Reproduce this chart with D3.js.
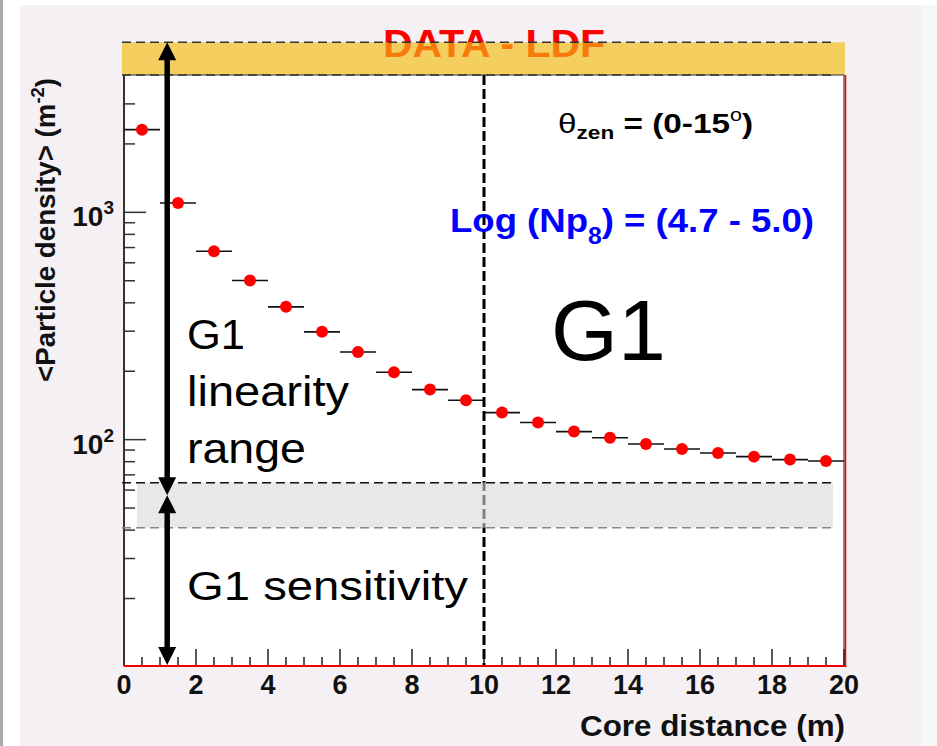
<!DOCTYPE html>
<html>
<head>
<meta charset="utf-8">
<script src="https://cdn.jsdelivr.net/npm/d3@7"></script>
<style>
  html, body { margin: 0; padding: 0; background: #ffffff; }
  svg { display: block; }
  text { font-family: "Liberation Sans", Arial, Helvetica, sans-serif; }
</style>
</head>
<body>
<script>
// Mean particle density per 1 m core-distance bin
const coreDistance = [0.5, 1.5, 2.5, 3.5, 4.5, 5.5, 6.5, 7.5, 8.5, 9.5,
                      10.5, 11.5, 12.5, 13.5, 14.5, 15.5, 16.5, 17.5, 18.5, 19.5];
const density = [2311, 1100, 674, 501, 384, 298, 243, 198, 166, 149,
                 131.5, 119, 108.5, 102, 95.7, 91, 87.4, 84.2, 81.7, 80.6];
const binHalfWidth = 0.5;

// Axis ranges and ticks
const xDomain = [0, 20];
const yDomain = [10.2, 4020];
const xTickLabels = [0, 2, 4, 6, 8, 10, 12, 14, 16, 18, 20];
const yMajorTicks = [100, 1000];
const yMinorTicks = [20, 30, 40, 50, 60, 70, 80, 90, 200, 300, 400, 500, 600, 700, 800, 900, 2000, 3000];

// Detector ranges (particle density, m^-2)
const saturationBand = [4020, 5600];
const transitionBand = [41, 64.7];
const linearityArrow = [5600, 57];
const sensitivityArrow = [57, 10.2];
const arrowDistance = 1.2;
const splitDistance = 10;

const W = 937, H = 746;
const svg = d3.select("body").append("svg").attr("width", W).attr("height", H);

const x = d3.scaleLinear().domain(xDomain).range([124, 844]);
const y = d3.scaleLog().domain(yDomain).range([665, 75]);

// page backgrounds
svg.append("rect").attr("x", 0).attr("y", 0).attr("width", W).attr("height", H).attr("fill", "#ffffff");
svg.append("rect").attr("x", 0).attr("y", 0).attr("width", 3).attr("height", H).attr("fill", "#a8a8a8");
svg.append("rect").attr("x", 20).attr("y", 5).attr("width", 902).attr("height", H - 5).attr("fill", "#f4f0f4");
svg.append("rect").attr("x", 922).attr("y", 5).attr("width", 15).attr("height", H - 5).attr("fill", "#f7f7f7");

// plot frame
svg.append("rect").attr("x", x(0)).attr("y", y(yDomain[1]))
  .attr("width", x(20) - x(0)).attr("height", y(yDomain[0]) - y(yDomain[1]))
  .attr("fill", "#ffffff");

// title (partly covered by the saturation band)
svg.append("text").attr("x", 494).attr("y", 57).attr("text-anchor", "middle")
  .attr("font-size", 39).attr("font-weight", "bold").attr("fill", "#ff0000")
  .attr("textLength", 222).attr("lengthAdjust", "spacingAndGlyphs")
  .text("DATA - LDF");

// saturation band above the frame
svg.append("rect").attr("x", x(0) - 2).attr("y", y(saturationBand[1]))
  .attr("width", x(20) - x(0) + 3).attr("height", y(saturationBand[0]) - y(saturationBand[1]))
  .attr("fill", "rgb(245,187,16)").attr("fill-opacity", 0.65);
[saturationBand[1], saturationBand[0]].forEach(v => {
  svg.append("line").attr("x1", x(0) - 2).attr("x2", 834).attr("y1", y(v)).attr("y2", y(v))
    .attr("stroke", "#333").attr("stroke-width", 1.5).attr("stroke-dasharray", "9,5");
});

// x ticks (inward)
const xMinor = d3.range(0.5, 20, 0.5).filter(d => d % 2 !== 0);
const gx = svg.append("g");
gx.selectAll("line.minor").data(xMinor).join("line")
  .attr("x1", d => x(d)).attr("x2", d => x(d)).attr("y1", 665).attr("y2", 657)
  .attr("stroke", "#222").attr("stroke-width", 1.5);
gx.selectAll("line.major").data(xTickLabels).join("line")
  .attr("x1", d => x(d)).attr("x2", d => x(d)).attr("y1", 665).attr("y2", 649)
  .attr("stroke", "#222").attr("stroke-width", 1.5);
gx.selectAll("text").data(xTickLabels).join("text")
  .attr("x", d => x(d)).attr("y", 694).attr("text-anchor", "middle")
  .attr("font-size", 27).attr("font-weight", "bold").attr("fill", "#111")
  .text(d => d);

// y ticks (inward)
const gy = svg.append("g");
gy.selectAll("line.minor").data(yMinorTicks).join("line")
  .attr("x1", 124).attr("x2", 135).attr("y1", d => y(d)).attr("y2", d => y(d))
  .attr("stroke", "#333").attr("stroke-width", 1.5);
gy.selectAll("line.major").data(yMajorTicks).join("line")
  .attr("x1", 124).attr("x2", 146).attr("y1", d => y(d)).attr("y2", d => y(d))
  .attr("stroke", "#333").attr("stroke-width", 1.5);
const yl = gy.selectAll("text").data(yMajorTicks).join("text")
  .attr("x", 114).attr("y", d => y(d) + 14).attr("text-anchor", "end")
  .attr("font-size", 28).attr("font-weight", "bold").attr("fill", "#111");
yl.append("tspan").text("10");
yl.append("tspan").attr("dy", -12).attr("font-size", 19).text(d => Math.round(Math.log10(d)));

// axis lines
svg.append("line").attr("x1", x(0)).attr("x2", x(0)).attr("y1", y(yDomain[1])).attr("y2", 666)
  .attr("stroke", "#333").attr("stroke-width", 2);
svg.append("line").attr("x1", x(0)).attr("x2", x(20)).attr("y1", y(yDomain[1])).attr("y2", y(yDomain[1]))
  .attr("stroke", "#333").attr("stroke-width", 1);
svg.append("line").attr("x1", x(0)).attr("x2", x(20) + 1).attr("y1", 666).attr("y2", 666)
  .attr("stroke", "#ee0000").attr("stroke-width", 2);
svg.append("line").attr("x1", x(20)).attr("x2", x(20)).attr("y1", y(yDomain[1])).attr("y2", 666)
  .attr("stroke", "#222").attr("stroke-width", 1);
svg.append("line").attr("x1", x(20) + 1.5).attr("x2", x(20) + 1.5).attr("y1", y(yDomain[1])).attr("y2", 667)
  .attr("stroke", "#ee0000").attr("stroke-width", 1.5);

// axis titles
svg.append("text").attr("transform", "translate(55,78) rotate(-90)").attr("text-anchor", "end")
  .attr("font-size", 27).attr("font-weight", "bold").attr("fill", "#111")
  .attr("textLength", 304).attr("lengthAdjust", "spacingAndGlyphs")
  .call(t => {
    t.append("tspan").text("<Particle density> (m");
    t.append("tspan").attr("dy", -11).attr("font-size", 18).text("-2");
    t.append("tspan").attr("dy", 11).text(")");
  });
svg.append("text").attr("x", 845).attr("y", 736).attr("text-anchor", "end")
  .attr("font-size", 29).attr("font-weight", "bold").attr("fill", "#111")
  .attr("textLength", 265).attr("lengthAdjust", "spacingAndGlyphs")
  .text("Core distance (m)");

// data: horizontal bin error bars and markers
const pts = coreDistance.map((d, i) => ({ d, v: density[i] }));
svg.append("g").selectAll("line").data(pts).join("line")
  .attr("x1", p => x(p.d - binHalfWidth)).attr("x2", p => x(p.d + binHalfWidth))
  .attr("y1", p => y(p.v)).attr("y2", p => y(p.v))
  .attr("stroke", "#111").attr("stroke-width", 1.6);
svg.append("g").selectAll("circle").data(pts).join("circle")
  .attr("cx", p => x(p.d)).attr("cy", p => y(p.v)).attr("r", 6)
  .attr("fill", "#ff0000");

// split line between detector halves
svg.append("line").attr("x1", x(splitDistance)).attr("x2", x(splitDistance))
  .attr("y1", y(yDomain[1])).attr("y2", 665)
  .attr("stroke", "#000").attr("stroke-width", 3).attr("stroke-dasharray", "10,4");

// transition band
svg.append("rect").attr("x", 137).attr("y", y(transitionBand[1]))
  .attr("width", 833 - 137).attr("height", y(transitionBand[0]) - y(transitionBand[1]))
  .attr("fill", "#d9d9d9").attr("fill-opacity", 0.6);
svg.append("line").attr("x1", x(0) - 2).attr("x2", 833).attr("y1", y(transitionBand[1])).attr("y2", y(transitionBand[1]))
  .attr("stroke", "#111").attr("stroke-width", 1.5).attr("stroke-dasharray", "9,5");
svg.append("line").attr("x1", x(0) - 2).attr("x2", 833).attr("y1", y(transitionBand[0])).attr("y2", y(transitionBand[0]))
  .attr("stroke", "#888").attr("stroke-width", 1.5).attr("stroke-dasharray", "9,5");

// double arrows for the linearity and sensitivity ranges
function arrow(v0, v1) {
  const ax = x(arrowDistance), ya = y(v0), yb = y(v1);
  const hl = 18, hw = 9;
  svg.append("line").attr("x1", ax).attr("x2", ax).attr("y1", ya + hl - 2).attr("y2", yb - hl + 2)
    .attr("stroke", "#000").attr("stroke-width", 5.5);
  svg.append("path").attr("d", `M${ax},${ya} L${ax - hw},${ya + hl} L${ax + hw},${ya + hl} Z`).attr("fill", "#000");
  svg.append("path").attr("d", `M${ax},${yb} L${ax - hw},${yb - hl} L${ax + hw},${yb - hl} Z`).attr("fill", "#000");
}
arrow(linearityArrow[0], linearityArrow[1]);
arrow(sensitivityArrow[0], sensitivityArrow[1]);

// range labels
const rangeLines = [["G1", 58], ["linearity", 162], ["range", 119]];
rangeLines.forEach(([s, len], i) => {
  svg.append("text").attr("x", 187).attr("y", 349 + i * 57)
    .attr("font-size", 42).attr("fill", "#000")
    .attr("textLength", len).attr("lengthAdjust", "spacingAndGlyphs")
    .text(s);
});
svg.append("text").attr("x", 187).attr("y", 600).attr("font-size", 41).attr("fill", "#000")
  .attr("textLength", 281).attr("lengthAdjust", "spacingAndGlyphs")
  .text("G1 sensitivity");
svg.append("text").attr("x", 551).attr("y", 360).attr("font-size", 86).attr("fill", "#000")
  .text("G1");

// selection labels
svg.append("text").attr("x", 558).attr("y", 133).attr("font-size", 28).attr("font-weight", "bold").attr("fill", "#000")
  .attr("textLength", 195).attr("lengthAdjust", "spacingAndGlyphs")
  .call(t => {
    t.append("tspan").attr("font-weight", "normal").text("θ");
    t.append("tspan").attr("dy", 6).attr("font-size", 19).text("zen");
    t.append("tspan").attr("dy", -6).text(" = (0-15");
    t.append("tspan").attr("dy", -12).attr("font-size", 18).attr("font-weight", "normal").text("o");
    t.append("tspan").attr("dy", 12).text(")");
  });
svg.append("text").attr("x", 450).attr("y", 232).attr("font-size", 34).attr("font-weight", "bold").attr("fill", "#0000ff")
  .attr("textLength", 364).attr("lengthAdjust", "spacingAndGlyphs")
  .call(t => {
    t.append("tspan").text("Log (Np");
    t.append("tspan").attr("dy", 12).attr("font-size", 23).text("8");
    t.append("tspan").attr("dy", -12).text(") = (4.7 - 5.0)");
  });
</script>
</body>
</html>
